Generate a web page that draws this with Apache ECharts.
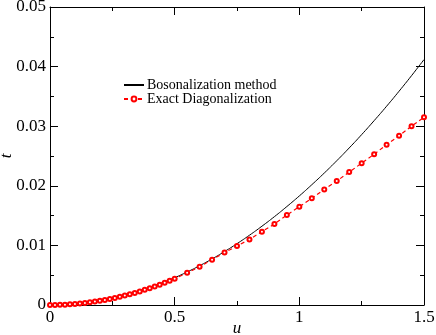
<!DOCTYPE html>
<html>
<head>
<meta charset="utf-8">
<style>
  html, body { margin: 0; padding: 0; background: #fff; }
  .chart { width: 436px; height: 335px; }
</style>
<script src="https://cdn.jsdelivr.net/npm/echarts@6/dist/echarts.min.js"></script>
</head>
<body>
<div class="chart"></div>
<script>
// Bosonalization method (solid black)
var uBoson = [0, 0.05, 0.1, 0.15, 0.2, 0.25, 0.3, 0.35, 0.4, 0.45, 0.5, 0.55, 0.6, 0.65, 0.7, 0.75,
  0.8, 0.85, 0.9, 0.95, 1.0, 1.05, 1.1, 1.15, 1.2, 1.25, 1.3, 1.35, 1.4, 1.45, 1.5];
var tBoson = [0, 0.00005, 0.00018, 0.00041, 0.00073, 0.00114, 0.00165, 0.00224, 0.00293, 0.00371,
  0.00458, 0.00554, 0.00659, 0.00773, 0.00897, 0.01029, 0.01171, 0.01322, 0.01482, 0.01652,
  0.0183, 0.02018, 0.02214, 0.0242, 0.02635, 0.02859, 0.03093, 0.03335, 0.03587, 0.03848, 0.04118];

// Exact Diagonalization (red dashed, circles)
var uExact = [0, 0.02, 0.04, 0.06, 0.08, 0.1, 0.12, 0.14, 0.16, 0.18, 0.2, 0.22, 0.24, 0.26, 0.28,
  0.3, 0.32, 0.34, 0.36, 0.38, 0.4, 0.42, 0.44, 0.46, 0.48, 0.5, 0.55, 0.6, 0.65, 0.7, 0.75, 0.8,
  0.85, 0.9, 0.95, 1.0, 1.05, 1.1, 1.15, 1.2, 1.25, 1.3, 1.35, 1.4, 1.45, 1.5];
var tExact = [0, 0.000007, 0.00003, 0.00006, 0.00011, 0.00018, 0.00025, 0.00035, 0.00045, 0.00057,
  0.0007, 0.00085, 0.00101, 0.00119, 0.00138, 0.00158, 0.0018, 0.00203, 0.00228, 0.00254, 0.00282,
  0.0031, 0.00341, 0.00372, 0.00406, 0.0044, 0.0054, 0.0064, 0.0076, 0.0088, 0.0099, 0.011, 0.0123,
  0.0136, 0.0151, 0.0165, 0.0179, 0.0194, 0.0208, 0.0223, 0.0238, 0.0253, 0.0269, 0.0284, 0.03, 0.0315];

var xTicks = ['0', '0.5', '1', '1.5'];

function pairs(xs, ys) {
  return xs.map(function(x, i) { return [x, ys[i]]; });
}

(function() {
  var myChart = echarts.init(document.querySelector('.chart'));
  var font = '"Liberation Serif", "DejaVu Serif", serif';
  var axisLine = { show: true, onZero: false, lineStyle: { color: '#000', width: 1 } };

  var option = {
    animation: false,
    textStyle: { fontFamily: font },
    grid: { left: 50, right: 12, top: 7, bottom: 30, containLabel: false, outerBoundsMode: 'none' },
    legend: {
      orient: 'vertical',
      left: 118,
      top: 73,
      itemWidth: 20,
      itemHeight: 6,
      itemGap: 0,
      textStyle: { fontFamily: font, fontSize: 14, color: '#000', padding: [0, 0, 0, -2] },
      data: [
        { name: 'Bosonalization method', itemStyle: { opacity: 0 } },
        { name: 'Exact Diagonalization' }
      ]
    },
    xAxis: [
      {
        type: 'value',
        min: 0, max: 1.5, interval: 0.5,
        name: 'u',
        nameLocation: 'middle',
        nameGap: 15,
        nameMoveOverlap: false,
        nameTextStyle: { fontFamily: font, fontSize: 17, fontStyle: 'italic', color: '#000' },
        axisLine: axisLine,
        axisTick: { inside: true, length: 8, lineStyle: { color: '#000' } },
        minorTick: { show: true, splitNumber: 2, length: 4, lineStyle: { color: '#000' } },
        splitLine: { show: false },
        axisLabel: {
          fontFamily: font, fontSize: 17, color: '#000', margin: 4,
          formatter: function(v) { return xTicks[Math.round(v / 0.5)]; }
        }
      },
      {
        type: 'value', position: 'top',
        min: 0, max: 1.5, interval: 0.5,
        axisLine: axisLine,
        axisTick: { inside: true, length: 8, lineStyle: { color: '#000' } },
        minorTick: { show: true, splitNumber: 2, length: 4, lineStyle: { color: '#000' } },
        splitLine: { show: false },
        axisLabel: { show: false }
      }
    ],
    yAxis: [
      {
        type: 'value',
        min: 0, max: 0.05, interval: 0.01,
        name: 't',
        nameLocation: 'middle',
        nameRotate: 90,
        nameGap: 35,
        nameMoveOverlap: false,
        nameTextStyle: { fontFamily: font, fontSize: 17, fontStyle: 'italic', color: '#000' },
        axisLine: axisLine,
        axisTick: { inside: true, length: 8, lineStyle: { color: '#000' } },
        minorTick: { show: true, splitNumber: 2, length: 4, lineStyle: { color: '#000' } },
        splitLine: { show: false },
        axisLabel: { fontFamily: font, fontSize: 17, color: '#000', margin: 4 }
      },
      {
        type: 'value', position: 'right',
        min: 0, max: 0.05, interval: 0.01,
        axisLine: axisLine,
        axisTick: { inside: true, length: 8, lineStyle: { color: '#000' } },
        minorTick: { show: true, splitNumber: 2, length: 4, lineStyle: { color: '#000' } },
        splitLine: { show: false },
        axisLabel: { show: false }
      }
    ],
    series: [
      {
        name: 'Bosonalization method',
        type: 'line',
        data: pairs(uBoson, tBoson),
        smooth: true,
        showSymbol: false,
        symbol: 'none',
        lineStyle: { color: '#000', width: 1 },
        itemStyle: { color: '#000' },
        z: 3
      },
      {
        name: 'Exact Diagonalization',
        type: 'line',
        data: pairs(uExact, tExact),
        symbol: 'emptyCircle',
        symbolSize: 4,
        lineStyle: { color: '#ff0000', width: 1.2, type: [4, 3] },
        itemStyle: { color: '#ff0000', borderWidth: 1 },
        z: 4
      }
    ]
  };
  myChart.setOption(option);
})();
</script>
</body>
</html>
